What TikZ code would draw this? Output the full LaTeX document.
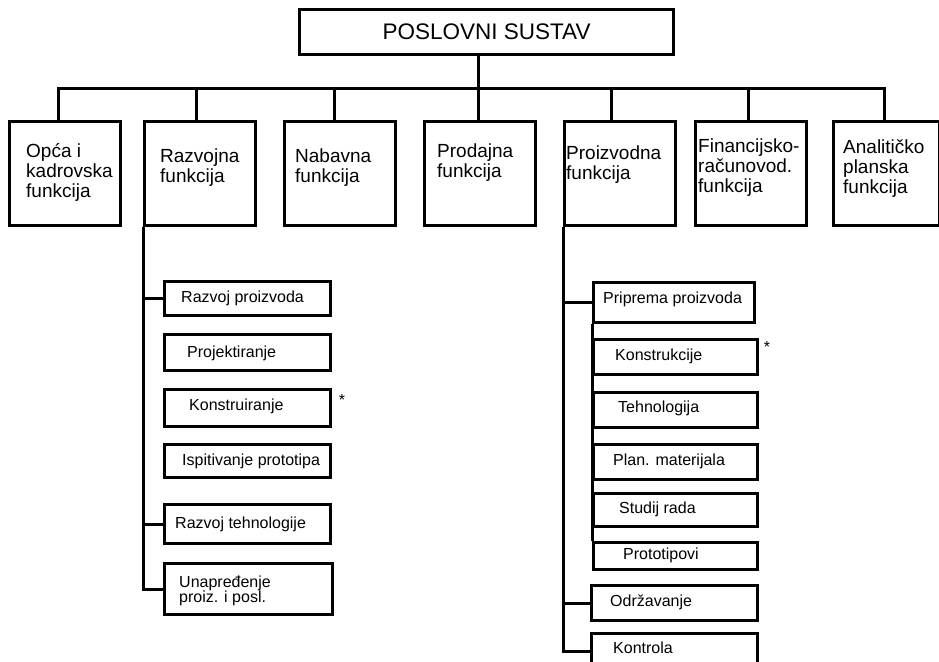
\documentclass[tikz,border=0pt]{standalone}
\usepackage{fontspec}
\setmainfont{Liberation Sans}
\usepackage{tikz}

\newcommand{\fnsize}{\fontsize{19}{20}\selectfont}
\newcommand{\subsize}{\fontsize{16}{15}\selectfont}

\tikzset{
  box/.style={draw, line width=3pt, inner sep=0pt, anchor=north west},
  fnbox/.style={box, minimum width=111, minimum height=104},
  subbox/.style={box, minimum width=166, minimum height=35},
  fntext/.style={anchor=base west, align=left, inner sep=0pt, font=\fnsize},
  subtext/.style={anchor=base west, align=left, inner sep=0pt, font=\subsize},
  conn/.style={line width=3pt},
}

\begin{document}
\begin{tikzpicture}[x=1pt, y=-1pt]
    \useasboundingbox (0,0) rectangle (939,661);
    \clip (0,0) rectangle (939,661);

    % Top
    \node[box, minimum width=374, minimum height=45, font=\fontsize{22.5}{24}\selectfont] (sustav) at (298,8) {POSLOVNI SUSTAV};

    % Functions
    \node[fnbox] (opca) at (8,120) {};
    \node[fnbox] (razvoj) at (143,120) {};
    \node[fnbox] (nabava) at (283,120) {};
    \node[fnbox] (prodaja) at (423,120) {};
    \node[fnbox] (proizv) at (563,120) {};
    \node[fnbox] (financ) at (694,120) {};
    \node[fnbox, minimum width=106] (analit) at (832,120) {};

    % (base = last line)
    \node[fntext] (opca-t) at ([shift={(18,77)}]opca.north west) {Opća i\\kadrovska\\funkcija};
    \node[fntext] (razvoj-t) at ([shift={(17,62)}]razvoj.north west) {Razvojna\\funkcija};
    \node[fntext] (nabava-t) at ([shift={(12,62)}]nabava.north west) {Nabavna\\funkcija};
    \node[fntext] (prodaja-t) at ([shift={(14,57)}]prodaja.north west) {Prodajna\\funkcija};
    \node[fntext] (proizv-t) at ([shift={(3,59)}]proizv.north west) {Proizvodna\\funkcija};
    \node[fntext] (financ-t) at ([shift={(4,72)}]financ.north west) {Financijsko-\\računovod.\\funkcija};
    \node[fntext] (analit-t) at ([shift={(11,73)}]analit.north west) {Analitičko\\planska\\funkcija};

    % Tree lines
    \draw[conn] ([xshift=-6.5]opca.north) -- ++(0,-32) -| ([xshift=-2]analit.north);
    \foreach \n/\dx in {razvoj/-3.5, nabava/-5.5, proizv/-8.5, financ/-2.5}
        \draw[conn] ([xshift=\dx]\n.north) -- ++(0,-32);
    \draw[conn] ([xshift=-8]sustav.south) -- ([xshift=-1.5]prodaja.north);

    % Razvojna funkcija
    \node[subbox, minimum height=34] (rproiz) at (163,280) {};
    \node[subbox, minimum height=36] (projekt) at (163,333) {};
    \node[subbox, minimum height=37] (konstr) at (163,388) {};
    \node[subbox, minimum height=33] (ispit) at (163,443) {};
    \node[subbox, minimum height=39] (rtehn) at (163,503) {};
    \node[subbox, minimum width=168, minimum height=51] (unapr) at (163,562) {};

    \node[subtext] (rproiz-t) at ([shift={(18,22)}]rproiz.north west) {Razvoj proizvoda};
    \node[subtext] (projekt-t) at ([shift={(24,24)}]projekt.north west) {Projektiranje};
    \node[subtext] (konstr-t) at ([shift={(26,22)}]konstr.north west) {Konstruiranje};
    \node[subtext] (ispit-t) at ([shift={(19,22)}]ispit.north west) {Ispitivanje prototipa};
    \node[subtext] (rtehn-t) at ([shift={(12,25)}]rtehn.north west) {Razvoj tehnologije};
    \node[subtext] (unapr-t) at ([shift={(16,40)}]unapr.north west) {Unapređenje\\proiz. i posl.};
    \node[subtext, anchor=base] (konstr-s) at (342,405) {*};

    \draw[conn] (razvoj.south west) |- (rproiz.west);
    \draw[conn] (razvoj.south west) |- (rtehn.west);
    \draw[conn] (razvoj.south west) |- (unapr.west);

    % Proizvodna funkcija
    \node[subbox, minimum width=161, minimum height=40] (priprema) at (592,281) {};
    \node[subbox, minimum width=164] (konstruk) at (592,338) {};
    \node[subbox, minimum width=164] (tehno) at (592,391) {};
    \node[subbox, minimum width=164] (planmat) at (592,443) {};
    \node[subbox, minimum width=164, minimum height=33] (studij) at (592,492) {};
    \node[subbox, minimum width=164, minimum height=27] (prototip) at (592,541) {};
    \node[subbox] (odrz) at (590,584) {};
    \node[subbox] (kontrola) at (590,632) {};

    \node[subtext] (priprema-t) at ([shift={(11,22)}]priprema.north west) {Priprema proizvoda};
    \node[subtext] (konstruk-t) at ([shift={(23,22)}]konstruk.north west) {Konstrukcije};
    \node[subtext] (tehno-t) at ([shift={(26,21)}]tehno.north west) {Tehnologija};
    \node[subtext] (planmat-t) at ([shift={(21,22)}]planmat.north west) {Plan. materijala};
    \node[subtext] (studij-t) at ([shift={(27,21)}]studij.north west) {Studij rada};
    \node[subtext] (prototip-t) at ([shift={(31,18)}]prototip.north west) {Prototipovi};
    \node[subtext] (odrz-t) at ([shift={(20,22)}]odrz.north west) {Održavanje};
    \node[subtext] (kontrola-t) at ([shift={(23,21)}]kontrola.north west) {Kontrola};
    \node[subtext, anchor=base] (konstruk-s) at (767,352) {*};

    \draw[conn] (proizv.south west) |- (priprema.west);
    \draw[conn] (proizv.south west) |- (odrz.west);
    \draw[conn] (proizv.south west) |- (kontrola.west);
    \draw[conn] (priprema.south west) -- (prototip.north west);
\end{tikzpicture}
\end{document}
